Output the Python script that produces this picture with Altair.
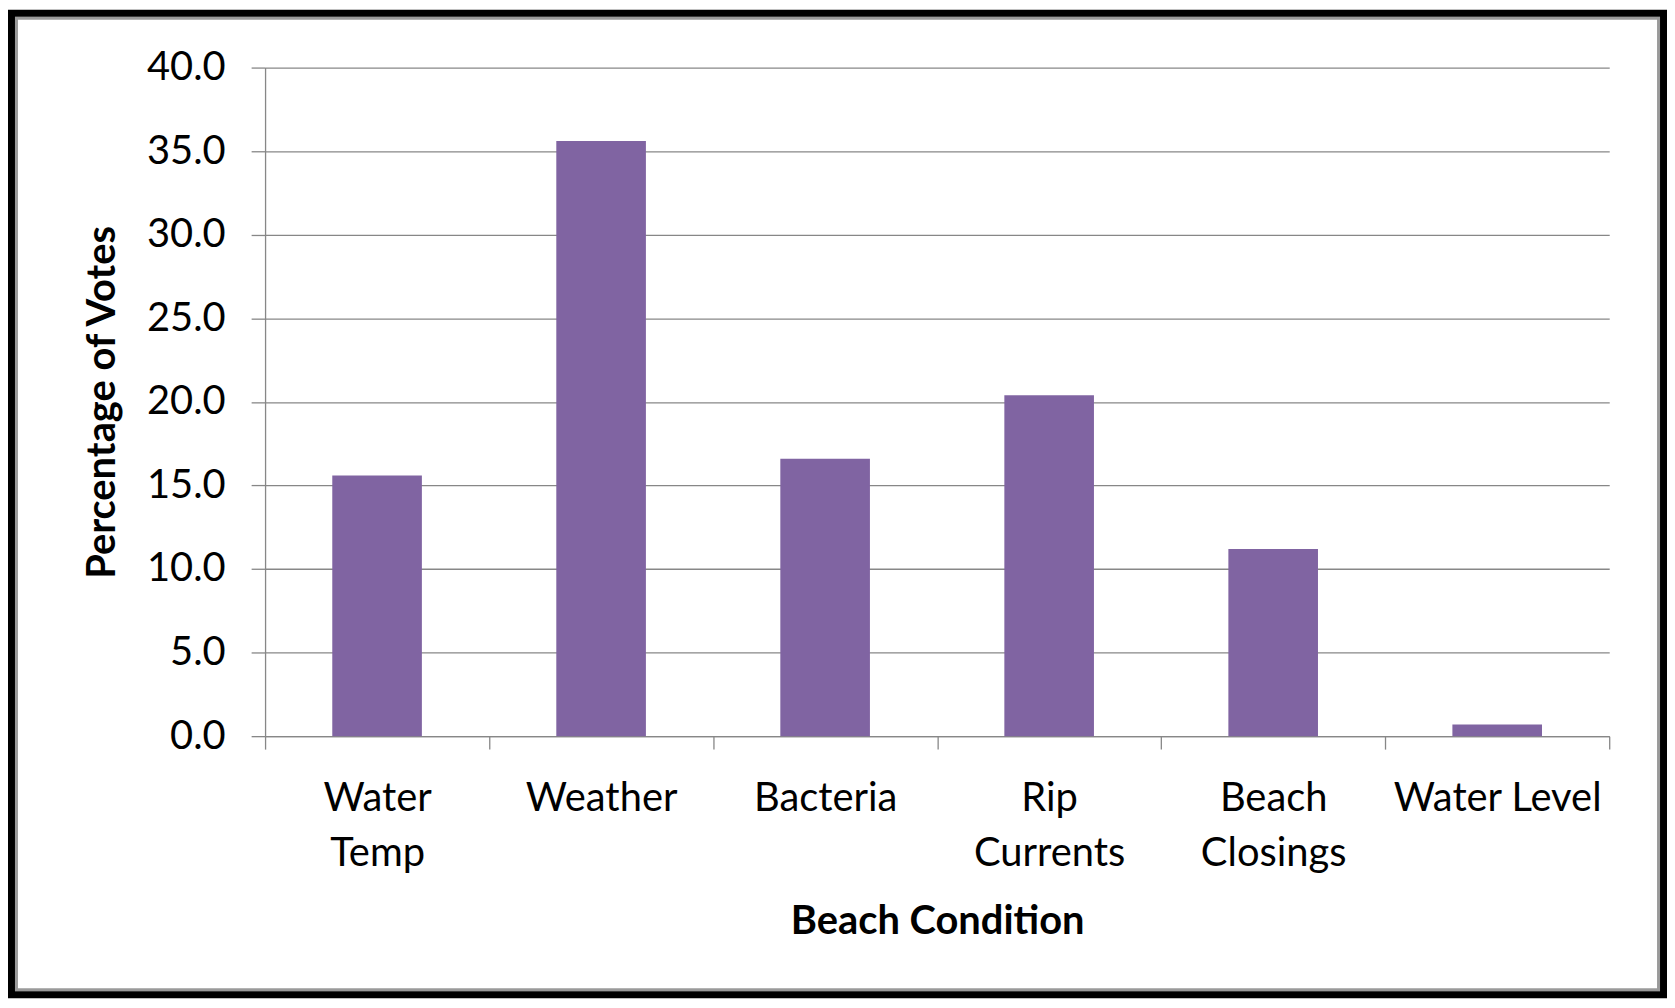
import altair as alt
import pandas as pd

categories = ["Water Temp", "Weather", "Bacteria", "Rip Currents", "Beach Closings", "Water Level"]
values = [15.6, 35.6, 16.6, 20.4, 11.2, 0.7]
y_ticks = [0, 5, 10, 15, 20, 25, 30, 35, 40]

df = pd.DataFrame({"condition": categories, "pct": values})

W, H = 1349, 671
PAD = {"left": 258, "top": 58, "right": 58, "bottom": 263}
GRAY = "#878787"
FONT = "Lato"
FS = 40

bars = alt.Chart(df).mark_bar(color="#8064A2", width=alt.RelativeBandSize(0.4)).encode(
    x=alt.X(
        "condition:N",
        sort=categories,
        scale=alt.Scale(paddingInner=0, paddingOuter=0),
        axis=alt.Axis(
            title="Beach Condition",
            tickBand="extent",
            labelAngle=0,
            labelExpr="datum.label == 'Water Level' ? datum.label : split(datum.label, ' ')",
            labelFontSize=FS,
            labelLineHeight=55,
            labelPadding=30,
            labelBaseline="top",
            labelLimit=500,
            labelOverlap=False,
            labelColor="#000000",
            tickSize=13,
            tickColor=GRAY,
            tickWidth=1.3,
            domainColor=GRAY,
            domainWidth=1.3,
            titleFontSize=FS,
            titleFontWeight="bold",
            titleColor="#000000",
            titleY=198,
            titleBaseline="alphabetic",
        ),
    ),
    y=alt.Y(
        "pct:Q",
        scale=alt.Scale(domain=[0, 40], nice=False),
        axis=alt.Axis(
            title="Percentage of Votes",
            values=y_ticks,
            format=".1f",
            grid=True,
            gridColor=GRAY,
            gridWidth=1.3,
            tickSize=14,
            tickColor=GRAY,
            tickWidth=1.3,
            domainColor=GRAY,
            domainWidth=1.3,
            labelFontSize=FS,
            labelPadding=26,
            labelColor="#000000",
            titleFontSize=FS,
            titleFontWeight="bold",
            titleColor="#000000",
            titleX=-151,
            titleY=H / 2,
            titleAngle=-90,
            titleAlign="center",
            titleBaseline="alphabetic",
        ),
    ),
)

frame_df = pd.DataFrame({"k": [0]})
black_frame = alt.Chart(frame_df).mark_rect(filled=False, stroke="#000000", strokeWidth=7).encode(
    x=alt.value(-254.5), x2=alt.value(1403.5), y=alt.value(-54.5), y2=alt.value(930.5)
)
gray_frame = alt.Chart(frame_df).mark_rect(filled=False, stroke="#9a9a9a", strokeWidth=3).encode(
    x=alt.value(-249.5), x2=alt.value(1398.5), y=alt.value(-49.5), y2=alt.value(925.5)
)

chart = (
    alt.layer(bars, gray_frame, black_frame)
    .properties(width=W, height=H, autosize=alt.AutoSizeParams(type="none"), padding=PAD, background="white")
    .configure(font=FONT)
    .configure_view(strokeWidth=0)
)

chart.save("out.html", embed_options={"renderer": "svg", "actions": False})
